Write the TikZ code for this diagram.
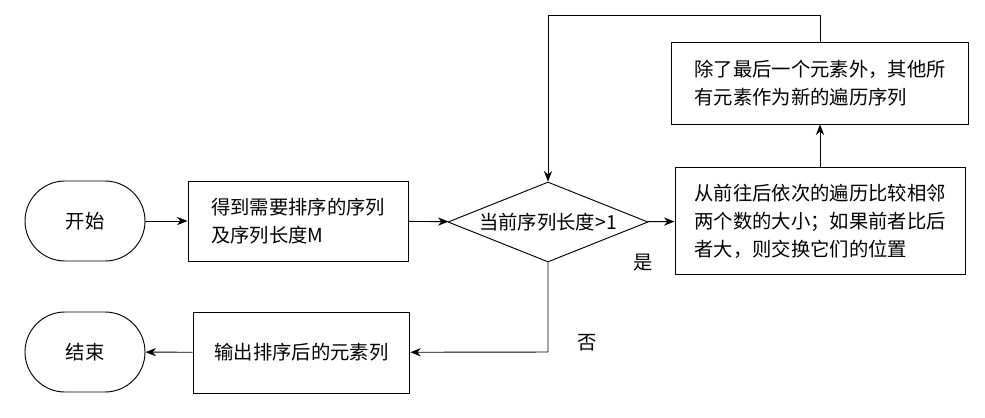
\documentclass[tikz,border=0pt]{standalone}
\usepackage{fontspec}
\setmainfont{Noto Sans CJK SC}
\usetikzlibrary{shapes.geometric, arrows.meta, positioning}
\tikzset{
  box/.style={draw, thick, align=left, inner sep=0pt, font=\fontsize{16.5pt}{24pt}\selectfont},
  term/.style={draw, thick, rounded corners=1.2cm, font=\fontsize{16.5pt}{24pt}\selectfont},
  flow/.style={thick, -{Stealth[length=9pt,width=7pt]}}
}
\begin{document}
\begin{tikzpicture}[x=0.03cm, y=-0.03cm]
  \useasboundingbox (0,0) rectangle (985,417);
  % terminals
  \node [term, minimum width=3.6cm, minimum height=2.4cm] (start) at (85,221) {开始};
  \node [term, minimum width=3.6cm, minimum height=2.4cm] (stop) at (85,352) {结束};
  % process boxes
  \node [box, minimum width=6.6cm, minimum height=2.4cm] (get) at (298,221) {得到需要排序的序列\\及序列长度M};
  \node [draw, thick, diamond, aspect=2.5, inner sep=0pt, minimum width=6cm, minimum height=2.4cm,
         font=\fontsize{16.5pt}{24pt}\selectfont] (cond) at (548,222) {当前序列长度>1};
  \node [box, minimum width=8.7cm, minimum height=3.2cm] (swap) at (820,221) {从前往后依次的遍历比较相邻\\两个数的大小；如果前者比后\\者大，则交换它们的位置};
  \node [box, minimum width=8.9cm, minimum height=2.46cm] (drop) at (820,83) {除了最后一个元素外，其他所\\有元素作为新的遍历序列};
  \node [box, minimum width=6.5cm, minimum height=2.43cm] (out) at (301.5,352.5) {输出排序后的元素列};
  % labels
  \node [font=\fontsize{16.5pt}{24pt}\selectfont] (yes) at (643,263) {是};
  \node [font=\fontsize{16.5pt}{24pt}\selectfont] (no) at (587,343) {否};
  \coordinate (top) at (820,15);
  \coordinate (turn) at (548,352);
  % edges
  \draw [flow] (start) -- (get);
  \draw [flow] (get) -- (cond);
  \draw [flow] (cond) -- (swap);
  \draw [flow] (swap) -- (drop);
  \draw [flow] (drop.north) -- (top) -| (cond.north);
  \draw [flow] (cond.south) -- (turn) -- (out);
  \draw [flow] (out) -- (stop);
\end{tikzpicture}
\end{document}
